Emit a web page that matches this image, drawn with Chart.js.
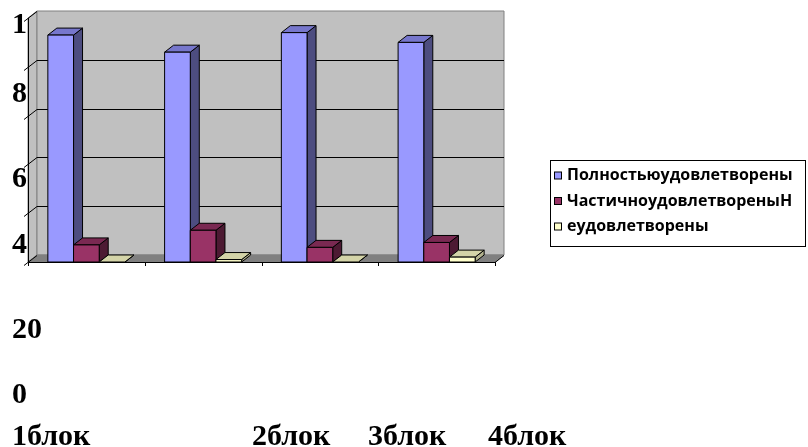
<!DOCTYPE html>
<html>
<head>
<meta charset="utf-8">
<script src="https://cdn.jsdelivr.net/npm/chart.js@4.4.1/dist/chart.umd.min.js"></script>
<style>
  html, body { margin: 0; padding: 0; background: #fff; }
  #wrap { position: relative; width: 808px; height: 447px; }
</style>
</head>
<body>
<div id="wrap"><canvas id="chart"></canvas></div>
<script>
// categories and series (percent)
const categories = ['1блок', '2блок', '3блок', '4блок'];
const seriesNames = ['Полностьюудовлетворены', 'ЧастичноудовлетвореныН', 'еудовлетворены'];
const fullySatisfied = [93, 86, 94, 90];
const partlySatisfied = [7, 13, 6, 8];
const notSatisfied = [0, 1, 0, 2];

// broken axis texts as they appear in the picture
const yTickTexts = ['1', '8', '6', '4', '20', '0'];
const yTickValues = [0, 20, 40, 60, 80, 100];

// colours: front, side, top
const faces = [
    ['#9999ff', '#4d4d80', '#7777cc'],
    ['#993366', '#4d1a33', '#7a2952'],
    ['#ffffcc', '#b3b38f', '#d4d4a8'],
];

const DX = 9, DY = -7;
const serif = 'bold 30px "Liberation Serif", "Times New Roman", serif';

function poly(ctx, pts, fill, stroke) {
    ctx.beginPath();
    ctx.moveTo(pts[0][0], pts[0][1]);
    for (let i = 1; i < pts.length; i++) ctx.lineTo(pts[i][0], pts[i][1]);
    ctx.closePath();
    if (fill) { ctx.fillStyle = fill; ctx.fill(); }
    if (stroke) { ctx.strokeStyle = stroke; ctx.lineWidth = 1; ctx.stroke(); }
}

const walls3d = {
    id: 'walls3d',
    beforeDatasetsDraw(chart) {
        const { ctx, chartArea: a, scales } = chart;
        const y = scales.y;
        ctx.save();
        // left wall, back wall, floor
        poly(ctx, [[a.left, a.bottom], [a.left + DX, a.bottom + DY], [a.left + DX, a.top + DY], [a.left, a.top]], '#c0c0c0', '#808080');
        poly(ctx, [[a.left + DX, a.top + DY], [a.right + DX, a.top + DY], [a.right + DX, a.bottom + DY], [a.left + DX, a.bottom + DY]], '#c0c0c0', '#808080');
        poly(ctx, [[a.left, a.bottom], [a.right, a.bottom], [a.right + DX, a.bottom + DY], [a.left + DX, a.bottom + DY]], '#808080', '#808080');

        // gridlines on walls
        ctx.strokeStyle = '#000';
        ctx.lineWidth = 1;
        yTickValues.forEach((v) => {
            const py = Math.round(y.getPixelForValue(v)) + 0.5;
            ctx.beginPath();
            ctx.moveTo(a.left - 4, py + 3);
            ctx.lineTo(a.left + DX, py + DY);
            if (v > 0 && v < 100) ctx.lineTo(a.right + DX, py + DY);
            ctx.stroke();
        });

        // axes
        ctx.beginPath();
        ctx.moveTo(a.left + 0.5, a.top);
        ctx.lineTo(a.left + 0.5, a.bottom);
        ctx.moveTo(a.left, a.bottom + 0.5);
        ctx.lineTo(a.right, a.bottom + 0.5);
        ctx.lineTo(a.right + DX, a.bottom + DY + 0.5);
        const step = (a.right - a.left) / categories.length;
        for (let i = 0; i <= categories.length; i++) {
            const px = Math.round(a.left + i * step) + 0.5;
            ctx.moveTo(px, a.bottom);
            ctx.lineTo(px, a.bottom + 4);
        }
        ctx.stroke();

        // bars, back to front
        const metas = chart.data.datasets.map((d, i) => chart.getDatasetMeta(i));
        for (let j = 0; j < categories.length; j++) {
            metas.forEach((meta, i) => {
                const bar = meta.data[j];
                const p = bar.getProps(['x', 'y', 'base', 'width'], true);
                const l = p.x - p.width / 2, r = p.x + p.width / 2;
                const t = Math.min(p.y, p.base), b = Math.max(p.y, p.base);
                const [front, side, top] = faces[i];
                poly(ctx, [[r, t], [r + DX, t + DY], [r + DX, b + DY], [r, b]], side, '#000');
                poly(ctx, [[l, t], [l + DX, t + DY], [r + DX, t + DY], [r, t]], top, '#000');
                if (b - t > 0.5) poly(ctx, [[l, t], [r, t], [r, b], [l, b]], front, '#000');
            });
        }
        ctx.restore();
        return false;
    },
    afterDraw(chart) {
        const { ctx } = chart;
        ctx.save();
        ctx.fillStyle = '#000';
        ctx.font = serif;
        ctx.textAlign = 'left';
        ctx.textBaseline = 'alphabetic';
        const yTextBase = [33, 102, 187, 253, 338, 403];
        yTickTexts.forEach((t, i) => ctx.fillText(t, 12, yTextBase[i]));
        const xTextLeft = [12, 252, 368, 488];
        categories.forEach((c, i) => ctx.fillText(c, xTextLeft[i], 445));

        // legend box
        ctx.strokeStyle = '#000';
        ctx.lineWidth = 1;
        ctx.strokeRect(550.5, 160.5, 255, 86);
        ctx.font = 'bold 16px "Open Sans", "Noto Sans", sans-serif';
        ctx.textBaseline = 'middle';
        chart.data.datasets.forEach((d, i) => {
            const cy = 175.5 + i * 25.5;
            ctx.fillStyle = faces[i][0];
            ctx.fillRect(554.5, cy - 3.5, 7, 7);
            ctx.strokeRect(554.5, cy - 3.5, 7, 7);
            ctx.fillStyle = '#000';
            ctx.fillText(d.label, 567, cy);
        });
        ctx.restore();
    },
};

new Chart(document.getElementById('chart'), {
    type: 'bar',
    data: {
        labels: categories,
        datasets: [
            { label: seriesNames[0], data: fullySatisfied, backgroundColor: faces[0][0] },
            { label: seriesNames[1], data: partlySatisfied, backgroundColor: faces[1][0] },
            { label: seriesNames[2], data: notSatisfied, backgroundColor: faces[2][0] },
        ],
    },
    options: {
        responsive: true,
        maintainAspectRatio: false,
        animation: false,
        layout: { padding: { left: 28, top: 18, right: 313, bottom: 185 } },
        datasets: { bar: { categoryPercentage: 0.66, barPercentage: 1 } },
        plugins: { legend: { display: false }, tooltip: { enabled: false } },
        scales: {
            x: { display: false },
            y: { display: false, min: 0, max: 100 },
        },
    },
    plugins: [walls3d],
});
</script>
</body>
</html>
